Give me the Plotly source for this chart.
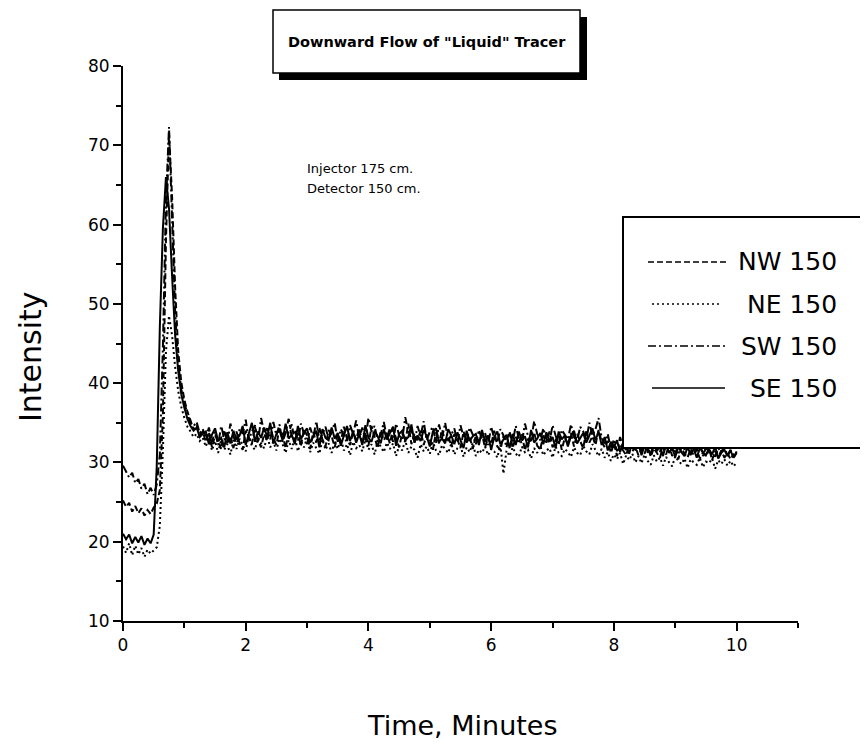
import plotly.graph_objects as go

# ---------------- data ----------------
time_min = [round(i * 0.05, 2) for i in range(201)]  # sampling grid, 0..10 min

sw_150 = [
    29.6, 28.9, 28.1, 28.7, 27.4, 27.9, 26.7, 27.3, 26.0, 26.8, 25.9,
    27.2, 31.0, 44.5, 63.0, 72.3, 61.0,
    49.0, 42.5, 39.2, 37.6, 36.1, 35.0, 34.6, 35.1, 33.7, 34.2,
    33.1, 34.4, 32.6, 33.9, 32.2, 34.6, 33.0, 32.4, 34.9, 33.3,
    32.1, 34.2, 33.6, 35.4, 32.8, 33.9, 34.7, 32.5, 35.6, 33.8,
    34.3, 32.9, 35.1, 33.4, 34.8, 32.6, 33.7, 35.5, 33.2, 34.1,
    32.7, 34.9, 33.5, 32.3, 34.4, 33.1, 35.2, 32.8, 33.6, 34.5,
    32.9, 33.8, 35.0, 32.6, 34.2, 33.3, 32.5, 34.7, 33.6, 35.3,
    33.0, 34.4, 32.8, 35.6, 33.9, 34.6, 32.7, 33.5, 35.1, 33.2,
    34.3, 32.6, 34.9, 33.4, 32.9, 35.7, 33.8, 34.1, 32.5, 34.6,
    33.3, 35.2, 32.8, 33.9, 34.5, 32.4, 34.8, 33.1, 35.0, 32.7,
    33.6, 34.3, 32.5, 34.7, 33.2, 32.8, 34.4, 33.5, 32.3, 34.1,
    32.9, 33.7, 32.2, 34.5, 33.0, 32.6, 34.2, 33.4, 31.9, 33.8,
    32.5, 34.6, 33.1, 32.4, 34.9, 33.3, 32.7, 35.2, 33.6, 32.8,
    34.3, 33.0, 32.5, 34.7, 33.4, 32.2, 34.1, 33.5, 32.9, 34.8,
    33.2, 32.6, 34.5, 33.9, 32.8, 35.0, 33.4, 34.2, 35.6, 33.1,
    32.4, 33.6, 31.7, 32.9, 31.4, 33.2, 32.0, 31.6, 33.0, 32.3,
    31.5, 32.8, 31.9, 33.1, 31.2, 32.6, 31.8, 32.9, 31.3, 32.5,
    31.7, 33.0, 31.4, 32.2, 31.0, 32.7, 31.6, 32.4, 30.9, 32.1,
    31.5, 32.6, 30.8, 31.9, 31.2, 32.3, 30.7, 31.8, 31.3, 32.0,
    30.9, 31.6, 30.6, 31.4,
]

nw_150 = [
    25.2, 24.4, 24.9, 23.8, 24.5, 23.6, 24.2, 23.3, 24.0, 23.5, 24.3,
    24.8, 26.5, 36.0, 58.0, 71.5, 63.5,
    52.0, 44.0, 40.1, 37.9, 36.4, 35.3, 34.1, 34.7, 33.5, 33.9,
    32.6, 33.8, 31.9, 33.4, 32.8, 31.7, 34.1, 32.5, 33.2, 31.8,
    33.9, 32.4, 31.6, 34.0, 33.1, 32.3, 34.5, 32.9, 31.9, 33.6,
    32.8, 34.6, 33.0, 32.2, 34.3, 33.5, 31.8, 33.9, 34.8, 32.6,
    33.7, 32.1, 34.2, 33.4, 31.7, 33.8, 32.5, 34.4, 32.9, 32.0,
    34.1, 33.3, 31.9, 33.6, 32.7, 34.5, 33.0, 32.2, 33.8, 32.9,
    34.3, 32.5, 33.7, 32.1, 34.6, 33.2, 31.8, 34.0, 32.8, 33.5,
    32.4, 34.2, 33.0, 31.9, 33.7, 32.6, 34.9, 32.3, 33.6, 32.8,
    34.0, 32.2, 33.5, 32.9, 31.6, 33.8, 32.4, 34.1, 32.7, 33.3,
    32.1, 33.6, 32.9, 31.8, 33.9, 32.5, 33.2, 31.7, 33.4, 32.6,
    33.5, 31.9, 33.1, 32.3, 34.0, 32.0, 31.6, 33.3, 32.7, 33.9,
    31.8, 33.2, 32.4, 33.6, 31.5, 33.0, 32.6, 33.8, 32.1, 31.7,
    33.4, 32.5, 33.9, 31.9, 32.8, 33.5, 31.6, 33.1, 32.3, 33.7,
    32.0, 33.6, 32.7, 31.8, 34.0, 32.5, 33.3, 32.2, 34.1, 32.6,
    31.9, 32.7, 31.2, 32.4, 30.8, 32.1, 31.5, 30.9, 32.3, 31.4,
    32.0, 30.9, 31.7, 31.1, 32.4, 30.7, 31.8, 31.2, 30.6, 31.9,
    31.0, 32.2, 30.8, 31.5, 30.4, 31.9, 31.1, 30.6, 31.7, 30.9,
    31.6, 30.5, 31.2, 30.8, 31.8, 30.3, 31.4, 30.7, 31.5, 30.6,
    31.2, 30.4, 31.0, 30.7,
]

se_150 = [
    21.0, 20.3, 20.9, 19.8, 20.6, 19.9, 20.7, 19.6, 20.4, 19.8, 20.9,
    29.5, 47.0, 59.5, 66.0, 62.0, 53.5,
    46.0, 41.5, 38.6, 36.9, 35.5, 34.6, 34.0, 34.4, 33.2, 33.6,
    33.9, 32.3, 33.5, 34.3, 32.7, 33.1, 31.9, 33.8, 32.4, 34.0,
    32.9, 33.4, 34.6, 32.2, 33.7, 35.0, 32.6, 33.9, 33.1, 34.4,
    33.2, 35.0, 32.4, 33.6, 34.1, 32.8, 34.9, 33.0, 33.5, 32.3,
    34.6, 32.9, 33.8, 34.3, 32.5, 33.3, 34.0, 31.9, 34.2, 33.1,
    32.8, 34.4, 33.0, 33.7, 32.1, 33.4, 34.6, 32.7, 33.9, 32.5,
    33.6, 32.2, 34.7, 33.1, 32.6, 34.0, 33.3, 32.4, 34.2, 32.9,
    33.7, 34.5, 32.1, 33.6, 34.0, 32.8, 33.2, 34.8, 32.5, 33.4,
    32.7, 34.1, 33.3, 32.0, 33.9, 34.3, 32.6, 33.0, 32.4, 34.2,
    33.4, 32.3, 33.8, 32.9, 31.8, 34.0, 32.7, 33.3, 33.6, 32.2,
    34.1, 32.6, 33.4, 31.6, 33.2, 33.9, 32.3, 32.9, 33.5, 31.8,
    33.6, 32.2, 33.9, 32.8, 33.3, 31.9, 34.1, 32.5, 33.0, 33.7,
    32.3, 33.8, 32.6, 33.2, 31.8, 33.9, 32.9, 33.4, 32.0, 33.3,
    34.0, 32.4, 33.1, 33.7, 32.5, 33.4, 34.3, 32.8, 33.9, 32.2,
    33.2, 31.5, 32.6, 31.9, 32.8, 31.3, 32.5, 32.0, 31.1, 32.7,
    31.6, 32.4, 30.9, 32.2, 31.7, 31.0, 32.5, 31.4, 32.1, 30.8,
    32.3, 31.2, 31.8, 30.7, 32.0, 31.3, 30.8, 31.9, 31.1, 31.7,
    30.6, 31.8, 31.3, 30.9, 31.7, 31.0, 32.0, 30.5, 31.2, 31.6,
    30.8, 31.5, 30.6, 31.2,
]

ne_150 = [
    19.4, 18.6, 19.8, 18.3, 19.5, 18.4, 19.2, 18.1, 19.0, 18.5, 18.9,
    19.3, 22.0, 31.5, 44.0, 48.5, 46.0,
    42.0, 39.0, 37.0, 35.6, 34.5, 33.9, 33.2, 33.6, 32.7, 33.1,
    32.0, 33.2, 31.5, 32.7, 31.2, 32.9, 31.6, 32.3, 31.0, 32.8,
    31.7, 33.0, 32.2, 31.4, 33.4, 32.1, 31.6, 33.1, 32.4, 31.8,
    33.3, 31.9, 32.6, 31.5, 33.0, 32.3, 31.2, 32.8, 31.7, 33.2,
    31.4, 32.7, 31.9, 33.1, 31.3, 32.5, 31.8, 31.1, 32.9, 31.6,
    32.4, 31.2, 32.8, 31.7, 33.0, 31.5, 32.3, 30.9, 32.6, 31.8,
    32.2, 31.4, 32.9, 31.6, 32.3, 31.0, 32.7, 31.9, 31.3, 32.5,
    31.7, 32.4, 30.8, 32.1, 31.5, 32.8, 31.2, 32.0, 31.6, 30.6,
    32.3, 31.4, 32.0, 31.1, 32.6, 31.5, 30.9, 32.2, 31.7, 31.2,
    32.4, 31.0, 31.8, 32.1, 30.7, 31.9, 31.3, 32.5, 30.8, 31.6,
    31.2, 32.0, 30.9, 31.7, 31.4, 30.6, 32.2, 28.6, 31.5, 30.8,
    31.9, 31.1, 30.7, 32.0, 31.3, 31.6, 30.5, 31.8, 31.2, 32.1,
    30.9, 31.5, 31.8, 30.6, 32.0, 31.2, 30.8, 31.7, 31.3, 30.7,
    31.9, 31.2, 30.9, 32.1, 31.4, 31.0, 32.3, 31.5, 30.8, 31.7,
    30.6, 31.3, 30.2, 31.0, 30.4, 31.2, 29.8, 30.9, 30.3, 31.1,
    30.0, 30.8, 29.9, 31.0, 30.2, 29.7, 30.9, 30.1, 30.6, 29.6,
    30.7, 30.0, 29.5, 30.8, 30.2, 29.8, 30.5, 29.3, 30.4, 30.0,
    29.7, 30.6, 29.4, 30.1, 29.9, 30.5, 29.2, 30.3, 29.8, 30.4,
    29.6, 30.2, 29.5, 30.0,
]

series_names = ["NW 150", "NE 150", "SW 150", "SE 150"]
series_values = [nw_150, ne_150, sw_150, se_150]
series_dash = ["6px,3px", "2px,3px", "8px,3px,2px,3px", "solid"]

x_ticks = [0, 2, 4, 6, 8, 10]
y_ticks = [10, 20, 30, 40, 50, 60, 70, 80]

chart_title = 'Downward Flow of "Liquid" Tracer'
note_lines = ["Injector 175 cm.", "Detector 150 cm."]

for v in series_values:
    if len(v) != len(time_min):
        raise ValueError("length mismatch %d" % len(v))

# ---------------- figure ----------------
FONT = "DejaVu Sans, Arial, sans-serif"
OFF = 8  # page body margin in the browser
W, H = 868 - OFF, 745 - OFF
# plot area in screen pixels: x 123..798, y 66..621
L = 123 - OFF
T = 66 - OFF
R = W - (798 - OFF)
B = H - (621 - OFF)
PW, PH = W - L - R, H - T - B


def px(x):
    return (x - OFF - L) / PW


def py(y):
    return (H - B - (y - OFF)) / PH


fig = go.Figure()
for name, vals, dash in zip(series_names, series_values, series_dash):
    fig.add_trace(go.Scatter(
        x=time_min, y=vals, mode="lines", name=name,
        line=dict(color="black", width=2, dash=dash),
        showlegend=False,
    ))

axis_common = dict(
    showline=True, linecolor="black", linewidth=2,
    ticks="outside", ticklen=8, tickwidth=2, tickcolor="black",
    showgrid=False, zeroline=False,
    tickfont=dict(family=FONT, size=17, color="black"),
)
fig.update_xaxes(range=[0, 11], tickvals=x_ticks,
                 minor=dict(dtick=1, ticks="outside", ticklen=5,
                            tickwidth=2, tickcolor="black", showgrid=False),
                 **axis_common)
fig.update_yaxes(range=[10, 80], tickvals=y_ticks, ticklabelstandoff=0,
                 minor=dict(dtick=5, ticks="outside", ticklen=5,
                            tickwidth=2, tickcolor="black", showgrid=False),
                 **axis_common)

shapes = [
    # title box shadow and box
    dict(type="rect", xref="paper", yref="paper",
         x0=px(279), x1=px(587), y0=py(80), y1=py(17),
         fillcolor="black", line=dict(width=0), layer="above"),
    dict(type="rect", xref="paper", yref="paper",
         x0=px(273), x1=px(580), y0=py(73), y1=py(10),
         fillcolor="white", line=dict(color="black", width=1.5), layer="above"),
    # legend box
    dict(type="rect", xref="paper", yref="paper",
         x0=px(623), x1=px(872), y0=py(448), y1=py(217),
         fillcolor="white", line=dict(color="black", width=2), layer="above"),
]
legend_rows = [262, 304, 346, 388]
legend_line_x = [(648, 726), (652, 720), (648, 726), (652, 725)]
for yrow, (xa, xb), dash in zip(legend_rows, legend_line_x, series_dash):
    shapes.append(dict(type="line", xref="paper", yref="paper",
                       x0=px(xa), x1=px(xb), y0=py(yrow), y1=py(yrow),
                       line=dict(color="black", width=1.3, dash=dash),
                       layer="above"))

annotations = [
    dict(text="<b>%s</b>" % chart_title,
         xref="paper", yref="paper", x=px(427), y=py(41.5),
         xanchor="center", yanchor="middle", showarrow=False,
         font=dict(family=FONT, size=14.5, color="black")),
    dict(text=note_lines[0], xref="paper", yref="paper", x=px(305), y=py(168),
         xanchor="left", yanchor="middle", showarrow=False,
         font=dict(family=FONT, size=13, color="black")),
    dict(text=note_lines[1], xref="paper", yref="paper", x=px(305), y=py(189),
         xanchor="left", yanchor="middle", showarrow=False,
         font=dict(family=FONT, size=13, color="black")),
    dict(text="Intensity", xref="paper", yref="paper", x=px(30), y=py(357),
         xanchor="center", yanchor="middle", textangle=-90, showarrow=False,
         font=dict(family=FONT, size=30, color="black")),
    dict(text="Time, Minutes", xref="paper", yref="paper", x=px(463), y=py(725),
         xanchor="center", yanchor="middle", showarrow=False,
         font=dict(family=FONT, size=27, color="black")),
]
for yrow, name in zip(legend_rows, series_names):
    annotations.append(dict(text=name, xref="paper", yref="paper",
                            x=px(839), y=py(yrow), xanchor="right",
                            yanchor="middle", showarrow=False,
                            font=dict(family=FONT, size=25, color="black")))

fig.update_layout(
    width=W, height=H,
    margin=dict(l=L, r=R, t=T, b=B, pad=0),
    paper_bgcolor="white", plot_bgcolor="white",
    shapes=shapes, annotations=annotations,
    showlegend=False,
)

fig.write_html("out.html")
